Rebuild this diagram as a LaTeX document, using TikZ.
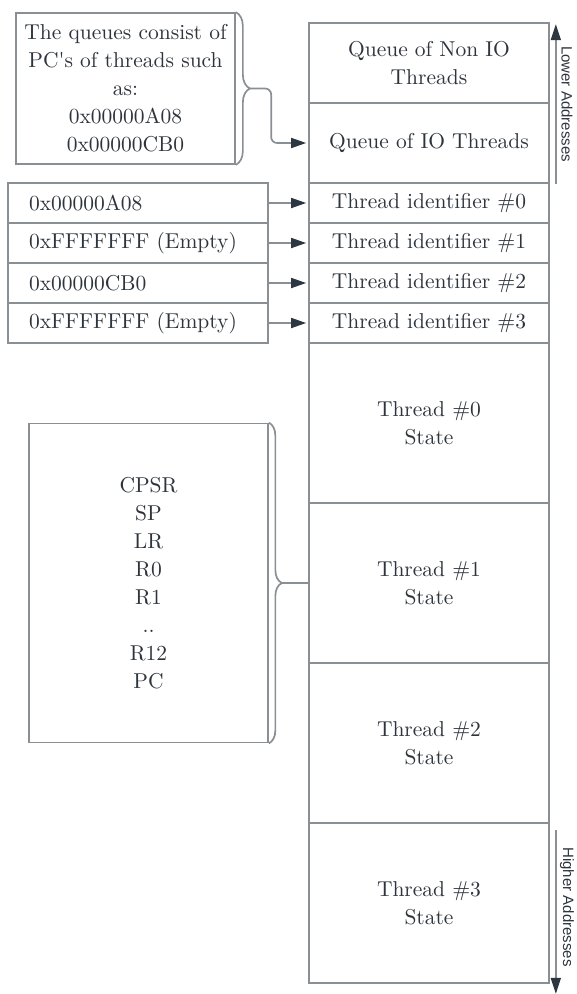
\documentclass[tikz,border=0pt]{standalone}
\usepackage{fontspec}
\setmainfont{lmroman10-regular}[Extension=.otf]
\newfontfamily\addrfont{Liberation Sans}
\usetikzlibrary{arrows.meta,decorations.pathreplacing}
\definecolor{linec}{RGB}{138,143,148}
\definecolor{txt}{RGB}{45,52,60}
\definecolor{tipc}{RGB}{45,55,65}
\begin{document}
\begin{tikzpicture}[x=1pt,y=-1pt,
  every node/.style={text=txt, font=\fontsize{21.5}{28}\selectfont},
  cell/.style={draw=linec, line width=1.7pt, rectangle, inner sep=0pt, minimum width=240pt, align=center},
  leftbox/.style={draw=linec, line width=1.7pt, rectangle, inner ysep=0pt, inner xsep=21pt, text width=218pt, minimum height=40pt, align=left},
  plainbox/.style={draw=linec, line width=1.7pt, rectangle, inner sep=0pt, align=center},
  conn/.style={draw=linec, line width=1.7pt, shorten >=2pt, -{Triangle[length=15pt,width=10pt,color=tipc]}},
  brc/.style={draw=linec, line width=1.7pt},
  addr/.style={draw=linec, line width=1.7pt, -{Triangle[length=16pt,width=10pt,color=tipc]}},
  addrlabel/.style={font=\addrfont\fontsize{15}{18}\selectfont, rotate=-90, inner sep=0pt}]
\useasboundingbox (0,0) rectangle (577,994);

% main column
\node[cell, minimum height=80pt] (q1) at (429,63) {Queue of Non IO\\Threads};
\node[cell, minimum height=80pt] (q2) at (429,143) {Queue of IO Threads};
\node[cell, minimum height=40pt] (t0) at (429,203) {Thread identifier \#0};
\node[cell, minimum height=40pt] (t1) at (429,243) {Thread identifier \#1};
\node[cell, minimum height=40pt] (t2) at (429,283) {Thread identifier \#2};
\node[cell, minimum height=40pt] (t3) at (429,323) {Thread identifier \#3};
\node[cell, minimum height=160pt] (s0) at (429,423) {Thread \#0\\State};
\node[cell, minimum height=160pt] (s1) at (429,583) {Thread \#1\\State};
\node[cell, minimum height=160pt] (s2) at (429,743) {Thread \#2\\State};
\node[cell, minimum height=160pt] (s3) at (429,903) {Thread \#3\\State};

% left boxes
\node[leftbox] (p0) at (138,203) {0x00000A08};
\node[leftbox] (p1) at (138,243) {0xFFFFFFF (Empty)};
\node[leftbox] (p2) at (138,283) {0x00000CB0};
\node[leftbox] (p3) at (138,323) {0xFFFFFFF (Empty)};
\draw[conn] (p0) -- (t0);
\draw[conn] (p1) -- (t1);
\draw[conn] (p2) -- (t2);
\draw[conn] (p3) -- (t3);

% top note
\node[plainbox, minimum width=219pt, minimum height=151pt] (note) at (125.5,88.5)
  {The queues consist of\\PC\textquotesingle s of threads such\\as:\\0x00000A08\\0x00000CB0};
\draw[brc, decorate, decoration={brace, amplitude=14pt}] (note.north east) -- (note.south east);
\coordinate (tipA) at ([xshift=14pt]note.east);
\draw[conn, rounded corners=6pt] (tipA) -| ([xshift=-37pt]q2.west) -- (q2.west);

% registers
\node[plainbox, minimum width=239pt, minimum height=319pt] (regs) at (148.5,583)
  {CPSR\\SP\\LR\\R0\\R1\\..\\R12\\PC};
\draw[brc, decorate, decoration={brace, amplitude=13pt}] (regs.north east) -- (regs.south east);
\coordinate (tipB) at ([xshift=13pt]regs.east);
\draw[brc] (tipB) -- (s1.west);

% address arrows
\coordinate (la) at ([xshift=6pt]q2.south east);
\coordinate (lb) at ([xshift=6pt,yshift=-2pt]q1.north east);
\draw[addr] (la) -- (lb);
\node[addrlabel] (lowl) at (567,104) {Lower Addresses};
\coordinate (ha) at ([xshift=6pt,yshift=-8pt]s3.north east);
\coordinate (hb) at ([xshift=6pt,yshift=-10pt]s3.south east);
\draw[addr] (ha) -- (hb);
\node[addrlabel] (highl) at (567,907) {Higher Addresses};
\end{tikzpicture}
\end{document}
